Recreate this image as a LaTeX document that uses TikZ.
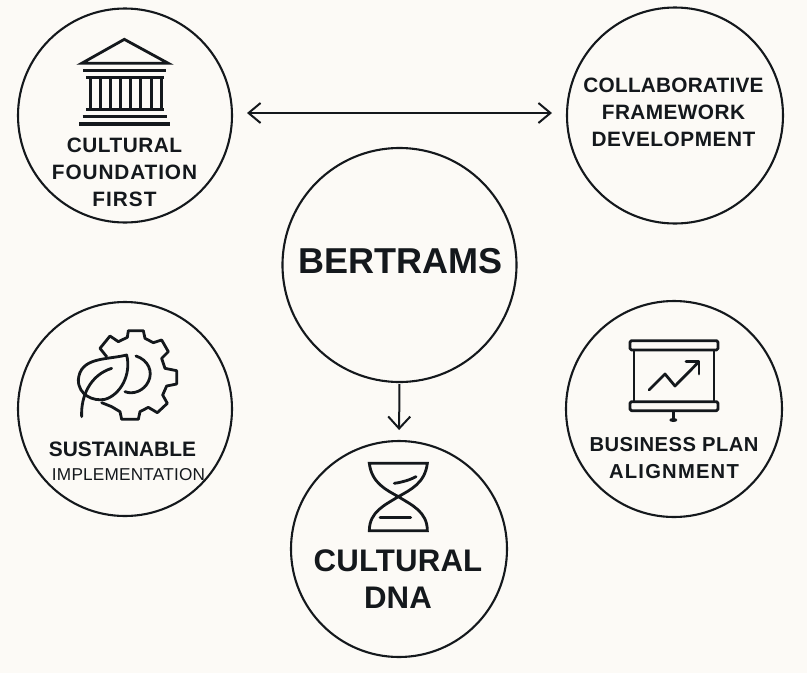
\documentclass[tikz,border=0pt]{standalone}
\usepackage{fontspec}
\setmainfont{Liberation Sans}
\usetikzlibrary{arrows.meta}
\definecolor{paper}{HTML}{FCFAF6}
\definecolor{ink}{HTML}{14181C}
\newcommand{\spaced}[2]{{\addfontfeature{LetterSpace=#1}#2}}
\tikzset{
  ring/.style={circle,draw=ink,line width=2.1pt,inner sep=0pt,outer sep=0pt,minimum size=#1},
  caption/.style 2 args={text=ink,align=center,inner sep=0pt,font=\fontsize{#1}{#2}\selectfont\bfseries},
  link/.style={draw=ink,line width=2pt,{Straight Barb[length=12pt,width=20pt,line width=2pt]}-{Straight Barb[length=12pt,width=20pt,line width=2pt]}},
  flow/.style={draw=ink,line width=2pt,-{Straight Barb[length=12pt,width=22pt,line width=2pt]}},
  icon/.style={draw=ink,line width=2.8pt,line cap=round,line join=round,fill=none},
  zoomed/.style={x=0.33333pt,y=-0.33333pt}
}
\begin{document}
\begin{tikzpicture}[x=1pt,y=-1pt]
\useasboundingbox (0,0) rectangle (807,673);
\fill[paper] (0,0) rectangle (807,673);
% circles
\node[ring=214pt] (tl) at (125,115.5) {};
\node[ring=216pt] (tr) at (675,115.5) {};
\node[ring=234pt] (centre) at (399.5,265) {};
\node[ring=214pt] (bl) at (125,409) {};
\node[ring=216pt] (br) at (674,409) {};
\node[ring=216pt] (bot) at (399,549) {};
% connectors
\path[link,shorten <=15pt,shorten >=15pt] ([yshift=2.5pt]tl.east) -- ([yshift=2.5pt]tr.west);
\path[flow,shorten <=2pt,shorten >=11pt] (centre.south) -- (bot.north);
% labels
\node[caption={20.8}{27}] (t1) at (124.5,172) {\spaced{2.4}{CULTURAL}\\\spaced{4.3}{FOUNDATION}\\\spaced{4.8}{FIRST}};
\node[caption={20.8}{27}] (t2) at (673.5,112) {\spaced{1}{COLLABORATIVE}\\\spaced{2}{FRAMEWORK}\\\spaced{2.6}{DEVELOPMENT}};
\node[caption={36}{40}] (t3) at (400.5,261) {BERTRAMS};
\node[caption={20.9}{24}] (t4a) at (122.5,449) {SUSTAINABLE};
\node[text=ink,inner sep=0pt,font=\fontsize{17.2}{20}\selectfont] (t4b) at (128.5,475) {\spaced{1.2}{IMPLEMENTATION}};
\node[caption={20.2}{27}] (t5) at (674,458) {\spaced{2.3}{BUSINESS PLAN}\\\spaced{6}{ALIGNMENT}};
\node[caption={31.2}{37}] (t6) at (398,579) {\spaced{0.5}{CULTURAL}\\DNA};
% temple
\begin{scope}[shift={(10pt,0pt)},zoomed]
  \draw[icon,line width=2.8pt,line join=miter] (343,118) -- (215,190) -- (475,190) -- cycle;
  \draw[icon,line width=3.2pt,line cap=butt] (220,212) -- (468,212);
  \draw[icon,line width=3.2pt,line cap=butt] (228,232) -- (462,232);
  \foreach \a/\b in {242/272,302/332,362/393,424/454}
    \draw[icon,line width=3pt,line cap=butt] (\a,232) -- (\a,328) (\b,232) -- (\b,328);
  \draw[icon,line width=3.2pt,line cap=butt] (228,328) -- (462,328);
  \draw[icon,line width=3.2pt,line cap=butt] (218,350) -- (470,350);
  \draw[icon,line width=3.2pt,line cap=butt] (208,372) -- (480,372);
\end{scope}
% gear and leaf
\begin{scope}[shift={(10pt,-300pt)},zoomed]
  \draw[icon] (290,170) -- (270,145) -- (300,108) -- (325,125) -- (352,112) -- (355,92) -- (400,92) -- (405,115) -- (430,128) -- (455,120) -- (475,155) -- (455,175) -- (465,205) -- (500,212) -- (500,252) -- (470,258) -- (458,285) -- (472,310) -- (442,338) -- (415,322) -- (390,335) -- (385,358) -- (335,358) -- (330,335) -- (305,320) -- (275,308);
  \draw[icon] (378,168) .. controls (415,180) and (430,215) .. (415,245) .. controls (402,272) and (370,285) .. (345,275);
  \draw[icon] (350,165) .. controls (290,180) and (210,170) .. (205,240) .. controls (205,285) and (250,305) .. (285,298) .. controls (330,285) and (365,225) .. (350,165) -- cycle;
  \draw[icon] (215,350) .. controls (212,290) and (240,225) .. (305,205);
\end{scope}
% hourglass
\begin{scope}[shift={(285pt,-375pt)},zoomed]
  \draw[icon,line cap=butt,line join=miter] (253,265) -- (427,265) .. controls (420,325) and (375,345) .. (340,365) .. controls (300,390) and (253,410) .. (253,467) -- (427,467) .. controls (427,410) and (380,390) .. (340,365) .. controls (305,345) and (260,325) .. (253,265) -- cycle;
  \draw[icon] (328,325) .. controls (350,322) and (375,315) .. (393,305);
  \draw[icon] (285,428) -- (377,428);
\end{scope}
% presentation board
\begin{scope}[shift={(560pt,-300pt)},zoomed]
  \draw[icon,rounded corners=1.5pt] (210,122) rectangle (474,150);
  \draw[icon,rounded corners=1.5pt] (210,305) rectangle (474,332);
  \draw[icon,line cap=butt] (222,150) -- (222,305) (462,150) -- (462,305);
  \draw[icon] (267,270) -- (315,222) -- (345,258) -- (415,187);
  \draw[icon] (378,185) -- (417,185) -- (417,222);
  \draw[icon,line cap=butt] (340,332) -- (340,358);
  \fill[ink] (340,360) ellipse (4pt and 2pt);
\end{scope}
\end{tikzpicture}
\end{document}
